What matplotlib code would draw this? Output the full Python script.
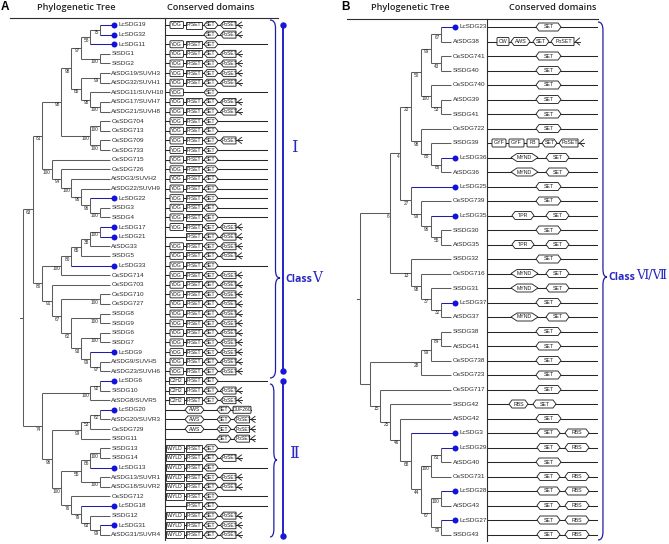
import matplotlib
matplotlib.use("Agg")
import matplotlib.pyplot as plt
from matplotlib.patches import Polygon, FancyBboxPatch, Rectangle, PathPatch
from matplotlib.path import Path

# ------------------------------------------------------------------ data
# Tree nodes: (bootstrap, level, child_a, child_b); leaves are names.
# ---- Panel A : class V and class II
a75 = (75, 8, 'LcSDG19', 'LcSDG32')
a58 = (58, 7, a75, 'LcSDG11')
a100a = (100, 8, 'SlSDG1', 'SlSDG2')
a97 = (97, 6, a58, a100a)
a99 = (99, 8, 'AtSDG19/SUVH3', 'AtSDG32/SUVH1')
a100b = (100, 8, 'AtSDG17/SUVH7', 'AtSDG21/SUVH8')
a98a = (98, 7, 'AtSDG11/SUVH10', a100b)
a65 = (65, 6, a99, a98a)
a98b = (98, 5, a97, a65)
a100c = (100, 8, 'OsSDG704', 'OsSDG713')
a100d = (100, 8, 'OsSDG709', 'OsSDG733')
a100e = (100, 7, a100c, a100d)
a98c = (98, 4, a98b, a100e)
a100g = (100, 8, 'SlSDG3', 'SlSDG4')
a96a = (96, 7, 'LcSDG22', a100g)
a96b = (96, 6, 'AtSDG22/SUVH9', a96a)
a100h = (100, 5, 'AtSDG3/SUVH2', a96b)
a94 = (94, 4, 'OsSDG726', a100h)
a100i = (100, 3, 'OsSDG715', a94)
a81 = (81, 2, a98c, a100i)
a100j = (100, 8, 'LcSDG17', 'LcSDG21')
a38 = (38, 7, a100j, 'AtSDG33')
a65b = (65, 6, a38, 'SlSDG5')
a80a = (80, 5, a65b, 'LcSDG33')
a100k = (100, 4, a80a, 'OsSDG714')
a100n = (100, 8, 'OsSDG710', 'OsSDG727')
a100l = (100, 8, 'SlSDG8', 'SlSDG9')
a100m = (100, 8, 'SlSDG6', 'SlSDG7')
a97b = (97, 8, 'AtSDG9/SUVH5', 'AtSDG23/SUVH6')
a99b = (99, 7, 'LcSDG9', a97b)
a93 = (93, 6, a100m, a99b)
a62 = (62, 5, a100l, a93)
a67 = (67, 4, a100n, a62)
a91 = (91, 3, 'OsSDG703', a67)
a80b = (80, 2, a100k, a91)
a63 = (63, 1, a81, a80b)
a92 = (92, 8, 'LcSDG6', 'SlSDG10')
a100o = (100, 7, a92, 'AtSDG8/SUVR5')
a62b = (62, 8, 'LcSDG20', 'AtSDG20/SUVR3')
a53 = (53, 7, a62b, 'OsSDG729')
a99c = (99, 6, a53, 'SlSDG11')
a100q = (100, 8, 'SlSDG13', 'SlSDG14')
a86 = (86, 7, a100q, 'LcSDG13')
a100r = (100, 8, 'AtSDG13/SUVR1', 'AtSDG18/SUVR2')
a55 = (55, 6, a86, a100r)
a99d = (99, 8, 'LcSDG31', 'AtSDG31/SUVR4')
a63b = (63, 7, 'SlSDG12', a99d)
a79 = (79, 6, 'LcSDG18', a63b)
a76 = (76, 5, 'OsSDG712', a79)
a100p = (100, 4, a55, a76)
a96 = (96, 3, a99c, a100p)
a74 = (74, 2, a100o, a96)
tree_A = (None, 0, a63, a74)

FULL = 'YDG PrSET SET PoSET'
YPS = 'YDG PrSET SET'
WFULL = 'WIYLD PrSET SET PoSET'
domains_A = {
    'LcSDG19': FULL, 'LcSDG32': 'SET PoSET', 'LcSDG11': YPS, 'SlSDG1': FULL,
    'SlSDG2': FULL, 'AtSDG19/SUVH3': FULL, 'AtSDG32/SUVH1': FULL,
    'AtSDG11/SUVH10': 'YDG SET', 'AtSDG17/SUVH7': FULL, 'AtSDG21/SUVH8': FULL,
    'OsSDG704': YPS, 'OsSDG713': YPS, 'OsSDG709': FULL, 'OsSDG733': YPS,
    'OsSDG715': YPS, 'OsSDG726': YPS, 'AtSDG3/SUVH2': YPS, 'AtSDG22/SUVH9': YPS,
    'LcSDG22': YPS, 'SlSDG3': YPS, 'SlSDG4': YPS, 'LcSDG17': FULL,
    'LcSDG21': 'PrSET SET PoSET', 'AtSDG33': FULL, 'SlSDG5': FULL, 'LcSDG33': YPS,
    'OsSDG714': FULL, 'OsSDG703': FULL, 'OsSDG710': FULL, 'OsSDG727': FULL,
    'SlSDG8': FULL, 'SlSDG9': FULL, 'SlSDG6': FULL, 'SlSDG7': FULL,
    'LcSDG9': FULL, 'AtSDG9/SUVH5': FULL, 'AtSDG23/SUVH6': FULL,
    'LcSDG6': 'C2H2 PrSET SET', 'SlSDG10': 'C2H2 PrSET SET PoSET',
    'AtSDG8/SUVR5': 'C2H2 PrSET SET PoSET', 'LcSDG20': 'AWS SET DUF260',
    'AtSDG20/SUVR3': 'AWS SET PoSET', 'OsSDG729': 'AWS SET PoSET',
    'SlSDG11': 'SET PoSET', 'SlSDG13': 'WIYLD PrSET SET', 'SlSDG14': WFULL,
    'LcSDG13': 'WIYLD PrSET SET', 'AtSDG13/SUVR1': WFULL, 'AtSDG18/SUVR2': WFULL,
    'OsSDG712': 'WIYLD PrSET SET', 'LcSDG18': 'PrSET SET', 'SlSDG12': WFULL,
    'LcSDG31': WFULL, 'AtSDG31/SUVR4': WFULL,
}
aws_group_A = ['LcSDG20', 'AtSDG20/SUVR3', 'OsSDG729', 'SlSDG11']

# ---- Panel B : class VI / VII
b67 = (67, 8, 'LcSDG23', 'AtSDG38')
b43 = (43, 8, 'OsSDG741', 'SlSDG40')
b99 = (99, 7, b67, b43)
b53 = (53, 8, 'AtSDG39', 'SlSDG41')
b100 = (100, 7, 'OsSDG740', b53)
b50 = (50, 6, b99, b100)
b66 = (66, 8, 'LcSDG36', 'AtSDG36')
b88 = (88, 7, 'SlSDG39', b66)
b98 = (98, 6, 'OsSDG722', b88)
b20 = (20, 5, b50, b98)
b55 = (55, 8, 'SlSDG30', 'AtSDG35')
b96 = (96, 7, 'LcSDG35', b55)
b99b = (99, 6, 'OsSDG739', b96)
b27 = (27, 5, 'LcSDG25', b99b)
b4 = (4, 4, b20, b27)
b32 = (32, 8, 'LcSDG37', 'AtSDG37')
b37 = (37, 7, 'SlSDG31', b32)
b98c = (98, 6, 'OsSDG716', b37)
b13 = (13, 5, 'SlSDG32', b98c)
b6 = (6, 3, b4, b13)
b84 = (84, 8, 'SlSDG38', 'AtSDG41')
b99c = (99, 7, b84, 'OsSDG738')
b28 = (28, 6, b99c, 'OsSDG723')
b81 = (81, 8, 'LcSDG29', 'AtSDG40')
b100c = (100, 7, b81, 'OsSDG731')
b100d = (100, 8, 'LcSDG28', 'AtSDG43')
b99d = (99, 8, 'LcSDG27', 'SlSDG43')
b67b = (67, 7, b100d, b99d)
b44 = (44, 6, b100c, b67b)
b68 = (68, 5, 'LcSDG3', b44)
b46 = (46, 4, 'AtSDG42', b68)
b25 = (25, 3, 'SlSDG42', b46)
b15 = (15, 2, 'OsSDG717', b25)
b_low = (None, 1, b28, b15)
tree_B = (None, 0, b6, b_low)

domains_B = {
    'LcSDG23': 'SET', 'AtSDG38': 'CW AWS SET PoSET', 'OsSDG741': 'SET',
    'SlSDG40': 'SET', 'OsSDG740': 'SET', 'AtSDG39': 'SET', 'SlSDG41': 'SET',
    'OsSDG722': 'SET', 'SlSDG39': 'GYF GYF FB SET PoSET', 'LcSDG36': 'MYND SET',
    'AtSDG36': 'MYND SET', 'LcSDG25': 'SET', 'OsSDG739': 'SET',
    'LcSDG35': 'TPR SET', 'SlSDG30': 'SET', 'AtSDG35': 'TPR SET', 'SlSDG32': 'SET',
    'OsSDG716': 'MYND SET', 'SlSDG31': 'MYND SET', 'LcSDG37': 'SET',
    'AtSDG37': 'MYND SET', 'SlSDG38': 'SET', 'AtSDG41': 'SET', 'OsSDG738': 'SET',
    'OsSDG723': 'SET', 'OsSDG717': 'SET', 'SlSDG42': 'RBS SET', 'AtSDG42': 'SET',
    'LcSDG3': 'SET RBS', 'LcSDG29': 'SET RBS', 'AtSDG40': 'SET',
    'OsSDG731': 'SET RBS', 'LcSDG28': 'SET RBS', 'AtSDG43': 'SET RBS',
    'LcSDG27': 'SET RBS', 'SlSDG43': 'SET RBS',
}

# ------------------------------------------------------------------ layout / style
W, H = 669, 544
fig = plt.figure(figsize=(W / 100, H / 100), dpi=100)
ax = fig.add_axes([0, 0, 1, 1])
ax.set_xlim(0, W)
ax.set_ylim(H, 0)
ax.axis('off')

GREY = '#5c5c5c'
BLUE_LINE = '#1e1ea6'
BLUE_DOT = '#1212dc'
BLUE_TXT = '#2a2ac0'
TXT = '#2a2a2a'
SANS = ['Liberation Sans', 'DejaVu Sans']
HEAD = ['Open Sans', 'DejaVu Sans']
SERIF = ['DejaVu Serif', 'Noto Sans CJK SC']


def leaf_order(node):
    if isinstance(node, str):
        return [node]
    return leaf_order(node[2]) + leaf_order(node[3])


def draw_tree(root, x0, dx, y0, dy):
    order = leaf_order(root)
    ypos = {n: y0 + i * dy for i, n in enumerate(order)}
    xleaf = x0 + 9 * dx

    def rec(node):
        if isinstance(node, str):
            return ypos[node]
        bs, lvl, a, b = node
        xn = x0 + lvl * dx
        ya, yb = rec(a), rec(b)
        ax.plot([xn, xn], [ya, yb], color=GREY, lw=0.75, solid_capstyle='butt')
        for ch, yc in ((a, ya), (b, yb)):
            if isinstance(ch, str):
                xc = xleaf + (4 if ch.startswith('Lc') else 0)
                col = BLUE_LINE if ch.startswith('Lc') else GREY
            else:
                xc, col = x0 + ch[1] * dx, GREY
            ax.plot([xn, xc], [yc, yc], color=col, lw=0.75, solid_capstyle='butt')
        yn = (ya + yb) / 2
        if bs is not None:
            ax.text(xn - 1.2, yn + 3.0, str(bs), fontsize=3.4, ha='right',
                    va='center', color=TXT, family=SANS)
        return yn

    yr = rec(root)
    ax.plot([x0 - 3, x0], [yr, yr], color=GREY, lw=0.75)
    for n in order:
        y = ypos[n]
        if n.startswith('Lc'):
            ax.plot([xleaf + 4.5], [y], 'o', ms=4.3, color=BLUE_DOT, mec='none', zorder=5)
            ax.text(xleaf + 8.5, y, n, fontsize=4.6, ha='left', va='center',
                    color=TXT, family=SANS)
        else:
            ax.text(xleaf + 1.8, y, n, fontsize=4.6, ha='left', va='center',
                    color=TXT, family=SANS)
    return ypos


def shape(kind, x0, x1, y, h, fs):
    t = h / 2
    tip = min(3.0, (x1 - x0) / 4)
    kw = dict(closed=True, fc='white', ec='#262626', lw=0.65, zorder=3)
    if kind in ('SET', 'AWS', 'TPR', 'RBS'):
        pts = [(x0, y), (x0 + tip, y - t), (x1 - tip, y - t), (x1, y),
               (x1 - tip, y + t), (x0 + tip, y + t)]
        ax.add_patch(Polygon(pts, **kw))
    elif kind == 'MYND':
        pts = [(x0, y), (x0 + 6, y - t), (x1 - 6, y - t), (x1, y),
               (x1 - 6, y + t), (x0 + 6, y + t)]
        ax.add_patch(Polygon(pts, **kw))
    elif kind == 'PoSET':
        pts = [(x0, y), (x0 + tip, y - t), (x1, y - t), (x1, y + t), (x0 + tip, y + t)]
        ax.add_patch(Polygon(pts, **kw))
        ax.plot([x1, x1 + 5.5], [y, y], color='#262626', lw=0.65, zorder=3)
        ax.plot([x1 + 5.5, x1 + 1.5, x1 + 5.5], [y - t + 0.5, y, y + t - 0.5],
                color='#262626', lw=0.65, zorder=3)
    elif kind in ('YDG', 'DUF260', 'CW', 'GYF', 'FB'):
        ax.add_patch(FancyBboxPatch((x0 + 1, y - t + 1), x1 - x0 - 2, h - 2,
                                    boxstyle='round,pad=1', fc='white',
                                    ec='#262626', lw=0.65, zorder=3))
    else:
        ax.add_patch(Rectangle((x0, y - t), x1 - x0, h, fc='white',
                               ec='#262626', lw=0.65, zorder=3))
    ax.text((x0 + x1) / 2 + (tip / 2 if kind == 'PoSET' else 0), y, kind,
            fontsize=fs, ha='center', va='center', color='#1e1e1e',
            family=SANS, zorder=4)


def draw_rows(ypos, domains, slot_fn, xstart, xend, h, fs):
    for n, y in ypos.items():
        doms = domains[n].split()
        slots = slot_fn(n, doms)
        last = doms[-1]
        end = slots[-1][1] if last in ('PoSET', 'DUF260') else xend
        ax.plot([xstart, end], [y, y], color='#262626', lw=0.75, zorder=1)
        for d, (s0, s1) in zip(doms, slots):
            shape(d, s0, s1, y, h, fs)


# ---- panel A placement
SLOT_A = {'YDG': (170, 183.5), 'C2H2': (169, 183.5), 'WIYLD': (166, 184),
          'PrSET': (186, 202), 'AWS': (185, 204), 'SET': (204, 218),
          'PoSET': (220.5, 236), 'DUF260': (233, 251)}
SLOT_A_SHIFT = {'SET': (217, 231), 'PoSET': (234, 249.5)}


def slots_A(name, doms):
    out = []
    for d in doms:
        if name in aws_group_A and d in SLOT_A_SHIFT:
            out.append(SLOT_A_SHIFT[d])
        else:
            out.append(SLOT_A[d])
    return out


SLOT_B = {
    ('SET',): [(536, 561)],
    ('MYND', 'SET'): [(511, 538), (546, 569)],
    ('TPR', 'SET'): [(512, 534), (546, 569)],
    ('SET', 'RBS'): [(537, 560), (565, 589)],
    ('RBS', 'SET'): [(509, 528), (533, 556)],
    ('CW', 'AWS', 'SET', 'PoSET'): [(497, 509), (511, 530), (533, 549), (551, 574)],
    ('GYF', 'GYF', 'FB', 'SET', 'PoSET'): [(492, 506), (509, 524), (527, 539),
                                          (542, 557), (559, 578)],
}


def slots_B(name, doms):
    return SLOT_B[tuple(doms)]


# ---- panel A
ypos_A = draw_tree(tree_A, 23, 9.62, 25, 9.62)
draw_rows(ypos_A, domains_A, slots_A, 165, 267, 7, 3.6)
ax.plot([165, 165], [18, 540], color='#2e2e2e', lw=0.8)
ax.plot([10, 278], [18, 18], color='#2e2e2e', lw=0.8)
ax.text(5, 7, 'A', fontsize=8.5, weight='bold', ha='center', va='center', family=SANS)
ax.text(76, 7.5, 'Phylogenetic Tree', fontsize=6.6, weight='semibold', ha='center',
        va='center', family=HEAD, color='#222222')
ax.text(211, 7.5, 'Conserved domains', fontsize=6.6, weight='semibold', ha='center',
        va='center', family=HEAD, color='#222222')


def brace(x, y0, y1, ytip, w, color, lw=0.9):
    xm = x + w * 0.55
    r = min(8, (ytip - y0) / 3, (y1 - ytip) / 3)
    verts = [(x, y0), (xm, y0), (xm, y0 + r),
             (xm, ytip - r),
             (xm, ytip), (x + w, ytip),
             (xm, ytip), (xm, ytip + r),
             (xm, y1 - r),
             (xm, y1), (x, y1)]
    codes = [Path.MOVETO, Path.CURVE3, Path.CURVE3, Path.LINETO,
             Path.CURVE3, Path.CURVE3, Path.CURVE3, Path.CURVE3,
             Path.LINETO, Path.CURVE3, Path.CURVE3]
    ax.add_patch(PathPatch(Path(verts, codes), fc='none', ec=color, lw=lw, zorder=2))


brace(270, 20, 378, 278, 10, BLUE_LINE)
brace(270, 384, 537, 460, 7, BLUE_LINE)
for ya, yb in ((25, 371), (381, 536)):
    ax.plot([283, 283], [ya, yb], color='#2424c8', lw=1.4, zorder=3)
    ax.plot([283, 283], [ya, yb], 'o', ms=4.6, color='#1818d8', mec='none', zorder=4)
ax.text(294, 147, 'Ⅰ', fontsize=12, ha='center', va='center', color=BLUE_TXT, family=SERIF)
ax.text(294, 453, 'Ⅱ', fontsize=12, ha='center', va='center', color=BLUE_TXT, family=SERIF)
ax.text(285, 279, 'Class', fontsize=7.6, weight='bold', ha='left', va='center',
        color=BLUE_TXT, family=HEAD)
ax.text(312, 278, 'Ⅴ', fontsize=10, ha='left', va='center', color=BLUE_TXT, family=SERIF)

# ---- panel B
ypos_B = draw_tree(tree_B, 360, 10.1, 27, 14.5)
draw_rows(ypos_B, domains_B, slots_B, 487, 597, 8, 3.8)
ax.plot([487, 487], [19, 541], color='#2e2e2e', lw=0.8)
ax.plot([347, 598], [19, 19], color='#2e2e2e', lw=0.8)
ax.text(346, 7, 'B', fontsize=8.5, weight='bold', ha='center', va='center', family=SANS)
ax.text(410, 7.5, 'Phylogenetic Tree', fontsize=6.6, weight='semibold', ha='center',
        va='center', family=HEAD, color='#222222')
ax.text(553, 7.5, 'Conserved domains', fontsize=6.6, weight='semibold', ha='center',
        va='center', family=HEAD, color='#222222')
brace(598, 22, 540, 277, 9, BLUE_LINE)
ax.text(608, 277, 'Class', fontsize=7.6, weight='bold', ha='left', va='center',
        color=BLUE_TXT, family=HEAD)
ax.text(636, 276, 'Ⅵ/Ⅶ', fontsize=9, ha='left', va='center', color=BLUE_TXT, family=SERIF)

fig.savefig('out.png', dpi=100)
